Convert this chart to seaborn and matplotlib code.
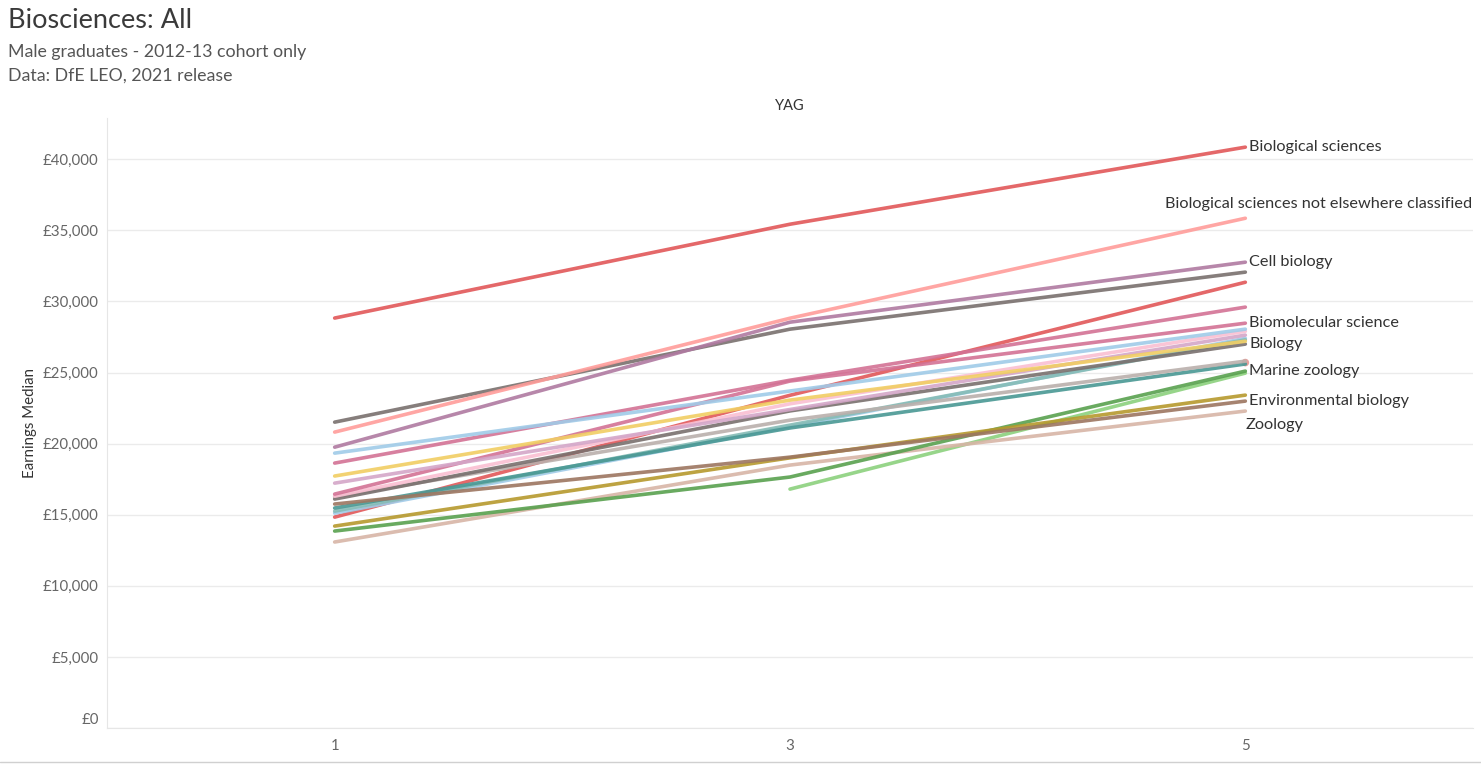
import numpy as np
import pandas as pd
import matplotlib
matplotlib.use("Agg")
import matplotlib.pyplot as plt
import matplotlib.transforms as mtransforms
import seaborn as sns
from matplotlib.ticker import FuncFormatter

# ---------------- data ----------------
yag = [1, 3, 5]

subjects = [
    "Biological sciences",
    "Biological sciences not elsewhere classified",
    "Cell biology",
    "Molecular biology, biophysics and biochemistry",
    "Microbiology",
    "Genetics",
    "Ecology",
    "Anatomy, physiology and pathology",
    "Biomolecular science",
    "Human biology",
    "Biology",
    "Botany",
    "Environmental biology",
    "Plant sciences",
    "Molecular biology",
    "Biotechnology",
    "Developmental biology",
    "Ecology and environmental biology",
    "Marine zoology",
    "Zoology",
    "Marine sciences",
    "Applied biology",
]

earnings = [
    [28830, 35430, 40850],
    [20810, 28820, 35850],
    [19750, 28540, 32760],
    [21510, 28050, 32060],
    [19330, 23700, 28050],
    [18630, 24460, 29600],
    [17720, 23060, 27200],
    [17220, 22400, 27630],
    [16450, 24400, 28470],
    [16300, 22800, 27900],
    [16100, 22300, 27000],
    [16250, 21650, 25800],
    [15750, 19050, 22990],
    [15470, 21100, 25600],
    [15250, 21300, 27300],
    [15110, 21200, 27400],
    [14830, 23400, 31350],
    [14200, 19000, 23410],
    [13850, 17650, 25100],
    [13080, 18490, 22290],
    [np.nan, 16800, 24960],
    [np.nan, np.nan, 25700],
]

colours = [
    "#E15759", "#FF9D9A", "#B07AA1", "#79706E", "#A0CBE8", "#D37295",
    "#F1CE63", "#D4A6C8", "#D37295", "#FABFD2", "#79706E", "#BAB0AC",
    "#9D7660", "#499894", "#86BCB6", "#A0CBE8", "#E15759", "#B6992D",
    "#59A14F", "#D7B5A6", "#8CD17D", "#E8A09C",
]

labelled = [
    "Biological sciences",
    "Biological sciences not elsewhere classified",
    "Cell biology",
    "Biomolecular science",
    "Biology",
    "Marine zoology",
    "Environmental biology",
    "Zoology",
]

title = "Biosciences: All"
subtitle1 = "Male graduates - 2012-13 cohort only"
subtitle2 = "Data: DfE LEO, 2021 release"

# ---------------- build table ----------------
rows = []
for s, vals in zip(subjects, earnings):
    for x, v in zip(yag, vals):
        if not np.isnan(v):
            rows.append({"Subject": s, "YAG": x, "Earnings Median": v})
df = pd.DataFrame(rows)
palette = dict(zip(subjects, colours))

counts = df.groupby("Subject")["YAG"].count()
multi = df[df["Subject"].map(counts) > 1]
single = df[df["Subject"].map(counts) == 1]

# ---------------- plot ----------------
sns.set_style("white")
plt.rcParams["font.family"] = ["Lato", "DejaVu Sans"]

fig = plt.figure(figsize=(14.81, 7.65), dpi=100)
ax = fig.add_axes([107 / 1481, 1 - 728 / 765, (1473 - 107) / 1481, (728 - 118) / 765])

sns.lineplot(data=multi, x="YAG", y="Earnings Median", hue="Subject",
             palette=palette, hue_order=[s for s in subjects if s in set(multi["Subject"])][::-1],
             linewidth=2.6, alpha=0.9, legend=False, ax=ax)
sns.scatterplot(data=single, x="YAG", y="Earnings Median", hue="Subject",
                palette=palette, s=30, edgecolor="none", legend=False, ax=ax)

ax.set_xlim(0, 6)
ax.set_ylim(0, 42900)
ax.set_xticks(yag)
ax.set_yticks(range(0, 40001, 5000))
ax.yaxis.set_major_formatter(FuncFormatter(lambda v, p: f"£{v:,.0f}"))
ax.tick_params(axis="both", length=0, labelsize=10.8, colors="#666666")
ax.tick_params(axis="y", pad=6)
ax.tick_params(axis="x", pad=8)
ax.grid(axis="y", color="#ebebeb", linewidth=1)
ax.set_axisbelow(True)
for side in ["top", "right"]:
    ax.spines[side].set_visible(False)
ax.spines["left"].set_color("#e6e6e6")
ax.spines["bottom"].set_color("#e6e6e6")

ax.set_xlabel("")
ax.set_ylabel("Earnings Median", fontsize=10.8, color="#333333", labelpad=4)
ax.set_title("YAG", fontsize=10.5, color="#333333", pad=6)

# lift the £0 label like the reference
fig.canvas.draw()
zero_lbl = ax.get_yticklabels()[0]
zero_lbl.set_transform(zero_lbl.get_transform() +
                       mtransforms.ScaledTranslation(0, 10 / 100, fig.dpi_scale_trans))

# end-of-line labels
end_vals = {s: v[-1] for s, v in zip(subjects, earnings)}
offsets = {"Zoology": (0, -14)}
for s in labelled:
    v = end_vals[s]
    if s == "Biological sciences not elsewhere classified":
        ax.annotate(s, xy=(1.0, v), xycoords=("axes fraction", "data"),
                    xytext=(-1, 14), textcoords="offset pixels",
                    ha="right", va="center", fontsize=11.7, color="#333333")
    else:
        dx, dy = offsets.get(s, (4, 0))
        ax.annotate(s, xy=(5, v), xytext=(dx, dy), textcoords="offset pixels",
                    ha="left", va="center", fontsize=11.7, color="#333333")

fig.text(8 / 1481, 1 - 21 / 765, title, fontsize=19.5, color="#3a3a3a",
         va="center", ha="left")
fig.text(8 / 1481, 1 - 52 / 765, subtitle1, fontsize=12.8, color="#555555",
         va="center", ha="left")
fig.text(8 / 1481, 1 - 76 / 765, subtitle2, fontsize=12.8, color="#555555",
         va="center", ha="left")

fig.add_artist(plt.Line2D([0, 1], [1 - 762 / 765] * 2, color="#d0d0d0", lw=1,
                          transform=fig.transFigure))

fig.savefig("out.png", dpi=100)
